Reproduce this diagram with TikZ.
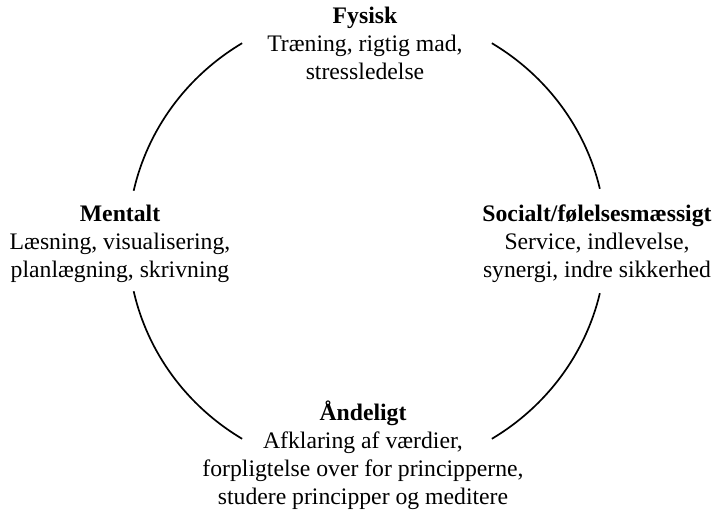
\documentclass[tikz,border=0pt]{standalone}
\usepackage{fontspec}
\setmainfont{Liberation Serif}
\begin{document}
\begin{tikzpicture}[x=1pt,y=1pt,
  blocktext/.style={align=center,inner sep=0pt,anchor=base,
    font=\fontsize{23.7}{28}\selectfont},
  ring/.style={line width=1.7pt,black}]
\useasboundingbox[fill=white] (0,0) rectangle (718,512);
\coordinate (c) at (367,271);
% text blocks (anchor base = baseline of the last line)
\node[blocktext] (fys) at (365,432) {\textbf{Fysisk}\\Træning, rigtig mad,\\stressledelse};
\node[blocktext] (men) at (120,234) {\textbf{Mentalt}\\Læsning, visualisering,\\planlægning, skrivning};
\node[blocktext] (soc) at (597,234) {\textbf{Socialt/følelsesmæssigt}\\Service, indlevelse,\\synergi, indre sikkerhed};
\node[blocktext] (aan) at (363,8) {\textbf{Åndeligt}\\Afklaring af værdier,\\forpligtelse over for principperne,\\studere principper og meditere};
% ring arcs
\draw[ring] (c) ++(121.5:239 and 232) arc[start angle=121.5,end angle=167.5,x radius=239,y radius=232];
\draw[ring] (c) ++(58.5:239 and 232) arc[start angle=58.5,end angle=13,x radius=239,y radius=232];
\draw[ring] (c) ++(192.5:239 and 232) arc[start angle=192.5,end angle=238.5,x radius=239,y radius=232];
\draw[ring] (c) ++(-13:239 and 232) arc[start angle=-13,end angle=-58.5,x radius=239,y radius=232];
\end{tikzpicture}
\end{document}
